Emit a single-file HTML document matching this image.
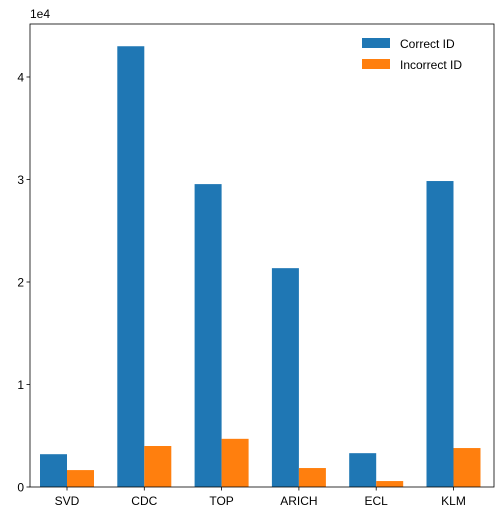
<!DOCTYPE html>
<html><head><meta charset="utf-8"><style>
body{margin:0;background:#fff;width:503px;height:520px;overflow:hidden}
text{font-family:"Liberation Sans","DejaVu Sans",sans-serif;fill:#000}
</style></head><body>
<svg id="c" width="503" height="520"></svg>
<script>
const categories=["SVD","CDC","TOP","ARICH","ECL","KLM"];
const correctValues=[0.32,4.30,2.955,2.135,0.33,2.985];
const incorrectValues=[0.165,0.40,0.47,0.185,0.058,0.38];
const yTicks=[0,1,2,3,4];
const seriesNames=["Correct ID","Incorrect ID"];

const NS="http://www.w3.org/2000/svg";
const svg=document.getElementById('c');
const L=30,R=494,T=24,B=487,yMax=4.517;
const y=v=>B-(v/yMax)*(B-T);
const cx=i=>67+i*77.3;
const bw=27;
function mk(tag,attrs,txt){const e=document.createElementNS(NS,tag);for(const k in attrs)e.setAttribute(k,attrs[k]);if(txt!=null)e.textContent=txt;svg.appendChild(e);return e;}
categories.forEach((c,i)=>{
  let b=mk('rect',{x:cx(i)-bw,y:y(correctValues[i]),width:bw,height:B-y(correctValues[i]),fill:'#1f77b4'});
  
  
  let o=mk('rect',{x:cx(i),y:y(incorrectValues[i]),width:bw,height:B-y(incorrectValues[i]),fill:'#ff7f0e'});
  
  
  mk('line',{x1:cx(i),x2:cx(i),y1:B,y2:B+3.5,stroke:'#000','stroke-width':0.8});
  let t=mk('text',{x:cx(i),y:B+18,'text-anchor':'middle','font-size':12},c);
  
  
});
yTicks.forEach(v=>{
  mk('line',{x1:L-3.5,x2:L,y1:y(v),y2:y(v),stroke:'#000','stroke-width':0.8});
  let t=mk('text',{x:L-6,y:y(v)+4.5,'text-anchor':'end','font-size':12},String(v));
  
  
});
let f=mk('rect',{x:L,y:T,width:R-L,height:B-T,fill:'none',stroke:'#000','stroke-width':0.8});


let ex=mk('text',{x:L,y:T-6,'font-size':12},'1e4');


const cols=['#1f77b4','#ff7f0e'];
seriesNames.forEach((n,i)=>{
  let g=mk('rect',{x:362,y:38+i*21,width:28,height:10,fill:cols[i]});
  
  
  let t=mk('text',{x:400,y:48+i*21,'font-size':12},n);
  
  
});
</script>
</body></html>
